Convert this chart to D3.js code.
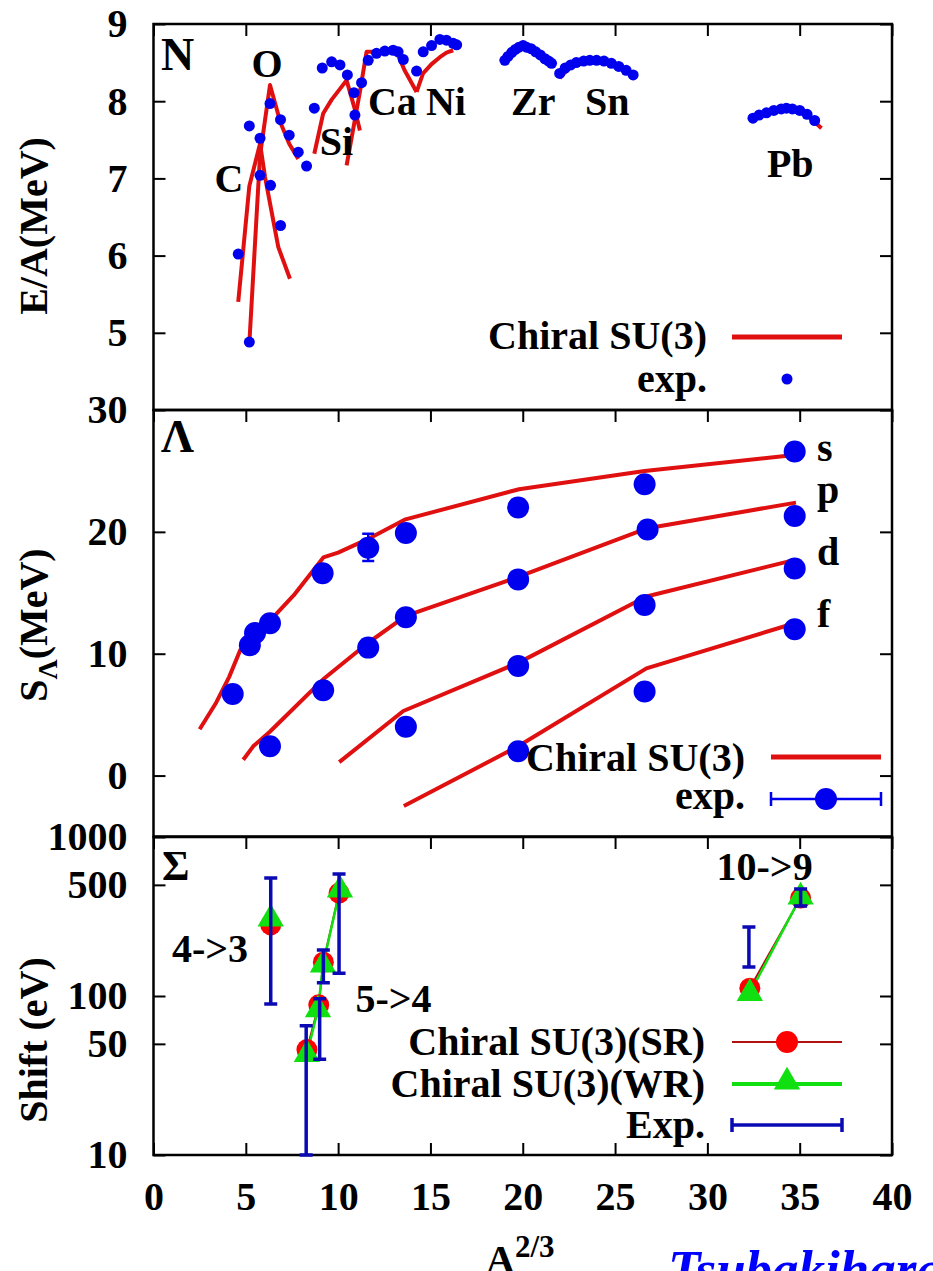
<!DOCTYPE html>
<html>
<head>
<meta charset="utf-8">
<script src="https://cdn.jsdelivr.net/npm/d3@7"></script>
<style>
body { margin: 0; background: #fff; }
text { font-family: "Liberation Serif", "Times New Roman", serif; font-weight: bold; fill: #000; }
</style>
</head>
<body>
<svg id="chart" width="933" height="1271"></svg>
<script>
// ---- data ----
var xTicks = [0, 5, 10, 15, 20, 25, 30, 35, 40];
var topTicks = [5, 6, 7, 8, 9];
var midTicks = [0, 10, 20, 30];
var botTicks = [10, 50, 100, 500, 1000];

// top panel: E/A, exp. (blue dots) per chain, [A^(2/3), MeV]
var expC  = [[4.59, 6.02], [5.19, 7.68], [5.77, 7.52], [6.34, 6.91], [6.88, 6.39]];
var expO  = [[5.19, 4.88], [5.77, 7.04], [6.31, 7.97], [6.88, 7.76], [7.35, 7.56], [7.84, 7.34], [8.29, 7.16]];
var expSi = [[8.71, 7.91], [9.14, 8.43], [9.65, 8.51], [10.1, 8.47], [10.5, 8.34], [10.86, 8.11]];
var expCa = [[10.91, 7.82], [11.27, 8.24], [11.63, 8.53], [12.08, 8.62], [12.53, 8.65], [12.98, 8.66], [13.25, 8.64], [13.53, 8.54]];
var expNi = [[14.25, 8.39], [14.61, 8.64], [15.06, 8.72], [15.51, 8.80], [15.87, 8.79], [16.23, 8.75], [16.42, 8.73]];
var expZr = [[19.03, 8.53], [19.2, 8.58], [19.4, 8.63], [19.6, 8.67], [19.8, 8.70], [20.02, 8.72], [20.2, 8.70], [20.45, 8.68], [20.7, 8.64], [20.95, 8.60], [21.2, 8.55], [21.4, 8.52], [21.56, 8.49]];
var expSn = [[22.0, 8.36], [22.3, 8.43], [22.6, 8.47], [22.9, 8.50], [23.3, 8.52], [23.63, 8.53], [24.0, 8.53], [24.4, 8.52], [24.8, 8.49], [25.2, 8.45], [25.6, 8.40], [25.98, 8.34]];
var expPb = [[32.47, 7.78], [32.8, 7.82], [33.2, 7.85], [33.6, 7.88], [34.0, 7.90], [34.28, 7.91], [34.6, 7.90], [35.0, 7.88], [35.4, 7.83], [35.81, 7.75]];

// top panel: Chiral SU(3) (red lines)
var thC  = [[4.59, 5.40], [5.19, 6.90], [5.77, 7.45], [6.04, 7.02], [6.76, 6.11], [7.39, 5.70]];
var thO  = [[5.19, 4.86], [5.77, 7.30], [6.31, 8.21], [6.88, 7.72], [7.35, 7.45], [7.84, 7.25]];
var thSi = [[8.71, 7.32], [9.19, 7.84], [9.65, 8.02], [10.1, 8.16], [10.46, 8.27], [10.9, 7.90], [11.18, 7.62]];
var thCa = [[10.46, 7.17], [10.9, 7.75], [11.2, 8.15], [11.54, 8.64], [12.1, 8.64], [12.6, 8.64], [13.2, 8.62], [13.6, 8.40], [14.25, 8.12]];
var thNi = [[14.25, 8.12], [14.6, 8.36], [15.06, 8.48], [15.51, 8.57], [15.87, 8.63], [16.23, 8.66]];
var thZr = [[19.03, 8.52], [19.6, 8.66], [20.02, 8.71], [20.5, 8.64], [21.0, 8.55], [21.56, 8.45]];
var thSn = [[22.0, 8.30], [22.6, 8.45], [23.63, 8.52], [24.8, 8.48], [25.98, 8.34]];
var thPb = [[32.47, 7.78], [33.6, 7.88], [34.28, 7.90], [35.4, 7.82], [36.18, 7.65]];

var nuclei = ["C", "O", "Si", "Ca", "Ni", "Zr", "Sn", "Pb"];
var nucleiX = [4.09, 6.15, 9.91, 12.94, 15.84, 20.57, 24.58, 34.49];
var nucleiY = [6.82, 8.31, 7.30, 7.82, 7.82, 7.82, 7.82, 7.02];

// middle panel: S_Lambda, [A^(2/3), MeV]
var shells = ["s", "p", "d", "f"];
var thS = [[2.5, 3.8], [3.4, 6.0], [4.1, 8.1], [4.7, 10.3], [5.5, 11.6], [6.3, 12.7], [7.6, 14.8], [9.2, 17.9], [10.0, 18.3], [11.6, 19.4], [13.6, 21.0], [19.8, 23.5], [26.6, 25.0], [34.7, 26.3]];
var thP = [[4.86, 1.3], [5.4, 2.4], [6.3, 3.6], [9.19, 7.9], [11.63, 10.9], [13.67, 13.1], [19.75, 16.3], [26.76, 20.3], [34.8, 22.4]];
var thD = [[10.06, 1.1], [13.53, 5.3], [19.75, 9.25], [26.7, 14.7], [34.73, 17.7]];
var thF = [[13.56, -2.5], [19.75, 2.4], [26.7, 8.8], [34.73, 12.5]];
var expS = [[4.29, 6.7], [5.22, 10.7], [5.5, 11.7], [6.31, 12.5], [9.16, 16.6], [11.63, 18.7], [13.67, 19.9], [19.75, 22.0], [26.6, 23.9], [34.73, 26.6]];
var expP = [[6.31, 2.4], [9.19, 7.0], [11.63, 10.5], [13.67, 13.0], [19.75, 16.1], [26.76, 20.2], [34.73, 21.3]];
var expD = [[13.67, 4.0], [19.75, 9.0], [26.6, 14.0], [34.73, 17.0]];
var expF = [[19.75, 2.0], [26.6, 6.9], [34.73, 12.0]];
var expSErr = [[11.63, 17.6, 19.85], [26.6, 23.3, 24.5]];
var shellLabelY = [25.8, 22.4, 17.3, 12.2];

// bottom panel: Sigma atom shifts (eV)
var srA = [[6.35, 280]];
var wrA = [[6.35, 305]];
var srB = [[8.31, 46], [8.95, 88], [9.2, 163], [10.05, 444]];
var wrB = [[8.31, 43], [8.91, 82], [9.18, 157], [10.1, 464]];
var srC = [[32.3, 112], [35.05, 413]];
var wrC = [[32.3, 104], [35.05, 420]];
var expShift = [[6.35, 89, 552], [8.27, 10, 65], [9.0, 40, 96], [9.2, 121, 195], [10.05, 139, 585], [32.25, 152, 272], [35.05, 368, 471]];
var transitions = ["4->3", "5->4", "10->9"];
var transX = [3.06, 13.0, 33.1];
var transY = [164, 79, 537];

// ---- layout ----
var svg = d3.select("#chart");
var red = "#e01010", blue = "#0000ee", green = "#10e010", errBlue = "#0a0ab4";
var x = d3.scaleLinear().domain([0, 40]).range([153.5, 892]);
var yTop = d3.scaleLinear().domain([4, 9]).range([410, 24]);
var yMid = d3.scaleLinear().domain([-5, 30]).range([836.5, 410]);
var yBot = d3.scaleLog().domain([10, 1000]).range([1155, 837]);

function drawFrame(y, ticks, fmt) {
    var r = y.range();
    var g = svg.append("g");
    var left = d3.axisLeft(y).tickValues(ticks).tickSizeInner(-12).tickSizeOuter(0).tickPadding(26).tickFormat(fmt);
    g.append("g").attr("transform", "translate(" + x(0) + ",0)").call(left);
    var right = d3.axisRight(y).tickValues(ticks).tickSizeInner(-12).tickSizeOuter(0).tickFormat("");
    g.append("g").attr("transform", "translate(" + x(40) + ",0)").call(right);
    var tp = d3.axisTop(x).tickValues(xTicks).tickSizeInner(-12).tickSizeOuter(0).tickFormat("");
    g.append("g").attr("transform", "translate(0," + r[1] + ")").call(tp);
    g.selectAll(".domain").remove();
    g.selectAll(".tick line").attr("stroke", "#000").attr("stroke-width", 2);
    g.selectAll(".tick text").attr("font-size", 40).attr("fill", "#000");
    svg.append("rect").attr("x", x(0)).attr("y", r[1]).attr("width", x(40) - x(0)).attr("height", r[0] - r[1])
        .attr("fill", "none").attr("stroke", "#000").attr("stroke-width", 2.5);
    return g;
}

function lineOf(y) {
    return d3.line().x(function(d) { return x(d[0]); }).y(function(d) { return y(d[1]); });
}

// ---- top panel ----
drawFrame(yTop, topTicks, d3.format("d"));
var gTop = svg.append("g");
[thC, thO, thSi, thCa, thNi, thZr, thSn, thPb].forEach(function(s) {
    gTop.append("path").datum(s).attr("d", lineOf(yTop)).attr("fill", "none")
        .attr("stroke", red).attr("stroke-width", 4).attr("stroke-linejoin", "round");
});
[expC, expO, expSi, expCa, expNi, expZr, expSn, expPb].forEach(function(s) {
    gTop.selectAll(null).data(s).enter().append("circle")
        .attr("cx", function(d) { return x(d[0]); }).attr("cy", function(d) { return yTop(d[1]); })
        .attr("r", 5.5).attr("fill", blue);
});
gTop.selectAll(null).data(nuclei).enter().append("text")
    .attr("x", function(d, i) { return x(nucleiX[i]); }).attr("y", function(d, i) { return yTop(nucleiY[i]); })
    .attr("text-anchor", "middle").attr("font-size", 40).text(function(d) { return d; });
gTop.append("text").attr("x", 161).attr("y", 70).attr("font-size", 46).text("N");
// legend
gTop.append("text").attr("x", 707).attr("y", 349).attr("text-anchor", "end").attr("font-size", 40).text("Chiral SU(3)");
gTop.append("line").attr("x1", 732).attr("x2", 842).attr("y1", 337).attr("y2", 337).attr("stroke", red).attr("stroke-width", 5);
gTop.append("text").attr("x", 707).attr("y", 392).attr("text-anchor", "end").attr("font-size", 40).text("exp.");
gTop.append("circle").attr("cx", 787).attr("cy", 379).attr("r", 5.5).attr("fill", blue);

// ---- middle panel ----
drawFrame(yMid, midTicks, d3.format("d"));
var gMid = svg.append("g");
[thS, thP, thD, thF].forEach(function(s) {
    gMid.append("path").datum(s).attr("d", lineOf(yMid)).attr("fill", "none")
        .attr("stroke", red).attr("stroke-width", 4).attr("stroke-linejoin", "round");
});
gMid.selectAll(null).data(expSErr).enter().append("path")
    .attr("d", function(d) {
        var cx = x(d[0]), lo = yMid(d[1]), hi = yMid(d[2]);
        return "M" + cx + "," + lo + "V" + hi + "M" + (cx - 6) + "," + lo + "h12M" + (cx - 6) + "," + hi + "h12";
    }).attr("stroke", blue).attr("stroke-width", 2.5).attr("fill", "none");
[expS, expP, expD, expF].forEach(function(s) {
    gMid.selectAll(null).data(s).enter().append("circle")
        .attr("cx", function(d) { return x(d[0]); }).attr("cy", function(d) { return yMid(d[1]); })
        .attr("r", 11).attr("fill", blue);
});
gMid.selectAll(null).data(shells).enter().append("text")
    .attr("x", 817).attr("y", function(d, i) { return yMid(shellLabelY[i]); })
    .attr("font-size", 40).text(function(d) { return d; });
gMid.append("text").attr("x", 161).attr("y", 452).attr("font-size", 46).text("Λ");
gMid.append("text").attr("x", 745).attr("y", 771).attr("text-anchor", "end").attr("font-size", 40).text("Chiral SU(3)");
gMid.append("line").attr("x1", 771).attr("x2", 881).attr("y1", 757).attr("y2", 757).attr("stroke", red).attr("stroke-width", 5);
gMid.append("text").attr("x", 745).attr("y", 809).attr("text-anchor", "end").attr("font-size", 40).text("exp.");
gMid.append("path").attr("d", "M771,799H881M771,792v14M881,792v14").attr("stroke", blue).attr("stroke-width", 2.5).attr("fill", "none");
gMid.append("circle").attr("cx", 826).attr("cy", 799).attr("r", 11).attr("fill", blue);

// ---- bottom panel ----
drawFrame(yBot, botTicks, d3.format("d"));
var bx = d3.axisBottom(x).tickValues(xTicks).tickSizeInner(-12).tickSizeOuter(0).tickPadding(27).tickFormat(d3.format("d"));
var gbx = svg.append("g").attr("transform", "translate(0,1155)").call(bx);
gbx.select(".domain").remove();
gbx.selectAll(".tick line").attr("stroke", "#000").attr("stroke-width", 2);
gbx.selectAll(".tick text").attr("font-size", 40).attr("fill", "#000");

var gBot = svg.append("g");
var tri = d3.symbol().type(d3.symbolTriangle).size(300);
var bline = lineOf(yBot);
[srB, srC].forEach(function(s) {
    gBot.append("path").datum(s).attr("d", bline).attr("fill", "none").attr("stroke", "#b01010").attr("stroke-width", 2);
});
[wrB, wrC].forEach(function(s) {
    gBot.append("path").datum(s).attr("d", bline).attr("fill", "none").attr("stroke", green).attr("stroke-width", 2.5);
});
[srA, srB, srC].forEach(function(s) {
    gBot.selectAll(null).data(s).enter().append("circle")
        .attr("cx", function(d) { return x(d[0]); }).attr("cy", function(d) { return yBot(d[1]); })
        .attr("r", 10.5).attr("fill", "#ff0000");
});
[wrA, wrB, wrC].forEach(function(s) {
    gBot.selectAll(null).data(s).enter().append("path").attr("d", tri)
        .attr("transform", function(d) { return "translate(" + x(d[0]) + "," + yBot(d[1]) + ")"; })
        .attr("fill", green);
});
gBot.selectAll(null).data(expShift).enter().append("path")
    .attr("d", function(d) {
        var cx = x(d[0]), lo = Math.min(yBot(d[1]), 1156), hi = yBot(d[2]);
        return "M" + cx + "," + lo + "V" + hi + "M" + (cx - 6.5) + "," + lo + "h13M" + (cx - 6.5) + "," + hi + "h13";
    }).attr("stroke", errBlue).attr("stroke-width", 3.5).attr("fill", "none");
gBot.selectAll(null).data(transitions).enter().append("text")
    .attr("x", function(d, i) { return x(transX[i]); }).attr("y", function(d, i) { return yBot(transY[i]); })
    .attr("text-anchor", "middle").attr("font-size", 40).text(function(d) { return d; });
gBot.append("text").attr("x", 162).attr("y", 880).attr("font-size", 42).text("Σ");
// legend
var lg = [["Chiral SU(3)(SR)", 1042], ["Chiral SU(3)(WR)", 1084], ["Exp.", 1125]];
gBot.selectAll(null).data(lg).enter().append("text")
    .attr("x", 705).attr("y", function(d) { return d[1] + 13; })
    .attr("text-anchor", "end").attr("font-size", 40).text(function(d) { return d[0]; });
gBot.append("line").attr("x1", 732).attr("x2", 842).attr("y1", 1042).attr("y2", 1042).attr("stroke", "#b01010").attr("stroke-width", 2);
gBot.append("circle").attr("cx", 787).attr("cy", 1042).attr("r", 11).attr("fill", "#ff0000");
gBot.append("line").attr("x1", 732).attr("x2", 842).attr("y1", 1084).attr("y2", 1084).attr("stroke", green).attr("stroke-width", 4);
gBot.append("path").attr("d", tri).attr("transform", "translate(787,1082)").attr("fill", green);
gBot.append("path").attr("d", "M732,1125H842M732,1118v14M842,1118v14").attr("stroke", errBlue).attr("stroke-width", 3.5).attr("fill", "none");

// ---- axis titles ----
function ytitle(cy, parts) {
    var t = svg.append("text").attr("transform", "translate(47," + cy + ") rotate(-90)")
        .attr("text-anchor", "middle").attr("font-size", 40);
    parts.forEach(function(p) {
        var s = t.append("tspan").text(p[0]);
        if (p[1]) s.attr("font-size", 28).attr("dy", 10);
        if (p[2]) s.attr("dy", p[2]);
    });
}
ytitle(226, [["E/A(MeV)"]]);
ytitle(625, [["S"], ["Λ", true], ["(MeV)", false, -10]]);
ytitle(1040, [["Shift (eV)"]]);

var xt = svg.append("text").attr("x", 486).attr("y", 1273).attr("font-size", 40);
xt.append("tspan").text("A");
xt.append("tspan").attr("font-size", 31).attr("dy", -16).text("2/3");

svg.append("text").attr("x", 668).attr("y", 1287).attr("font-size", 53)
    .attr("font-style", "italic").attr("font-weight", "normal").style("fill", "#0000ff").text("Tsubakihara et al.");
</script>
</body>
</html>
